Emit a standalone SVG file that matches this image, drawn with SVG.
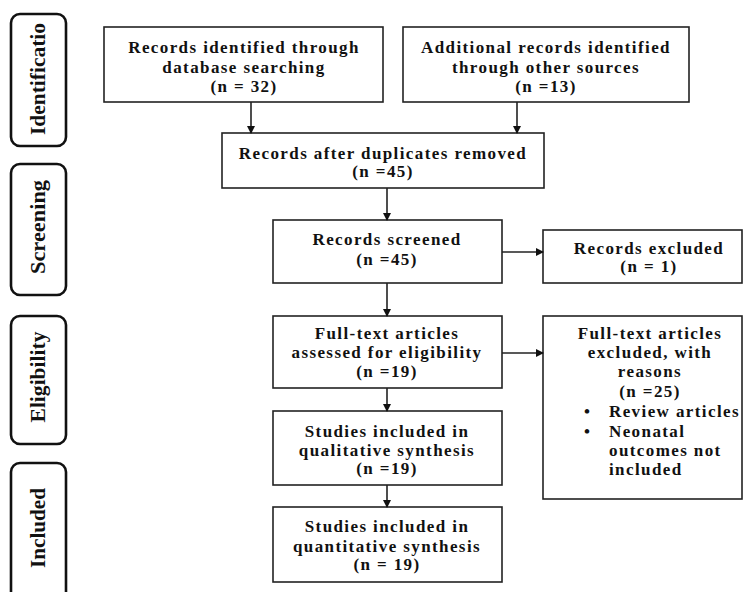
<svg xmlns="http://www.w3.org/2000/svg" width="747" height="592" viewBox="0 0 747 592">
<defs>
<marker id="ah" markerWidth="8" markerHeight="8" refX="7" refY="4" orient="auto" markerUnits="userSpaceOnUse">
<path d="M0,0 L8,4 L0,8 Z" fill="#111"/>
</marker>
<style>
.box{fill:#fff;stroke:#222;stroke-width:1.6}
.side{fill:#fff;stroke:#111;stroke-width:2.6}
.t{font-family:"Liberation Serif","Times New Roman",serif;font-weight:bold;font-size:17px;fill:#111;text-anchor:middle;letter-spacing:1.4px}
.tl{font-family:"Liberation Serif","Times New Roman",serif;font-weight:bold;font-size:17px;fill:#111;letter-spacing:1.4px}
.s{font-family:"Liberation Serif","Times New Roman",serif;font-weight:bold;font-size:21px;fill:#111;text-anchor:middle}
.c{stroke:#222;stroke-width:1.6;fill:none;marker-end:url(#ah)}
</style>
</defs>
<rect width="747" height="592" fill="#fff"/>

<g id="side-identification">
<rect class="side" x="11" y="14" width="55" height="132" rx="9"/>
<text class="s" transform="translate(45,79) rotate(-90)" textLength="112" lengthAdjust="spacingAndGlyphs">Identificatio</text>
</g>
<g id="side-screening">
<rect class="side" x="11" y="164" width="55" height="131" rx="9"/>
<text class="s" transform="translate(45,227) rotate(-90)" textLength="94" lengthAdjust="spacingAndGlyphs">Screening</text>
</g>
<g id="side-eligibility">
<rect class="side" x="11" y="316" width="55" height="128" rx="9"/>
<text class="s" transform="translate(45,377) rotate(-90)" textLength="91" lengthAdjust="spacingAndGlyphs">Eligibility</text>
</g>
<g id="side-included">
<rect class="side" x="11" y="463" width="55" height="140" rx="9"/>
<text class="s" transform="translate(45,528) rotate(-90)" textLength="80" lengthAdjust="spacingAndGlyphs">Included</text>
</g>

<g id="n-database">
<rect class="box" x="104" y="27" width="279" height="75"/>
<text class="t" x="244" y="53">Records identified through</text>
<text class="t" x="244" y="73">database searching</text>
<text class="t" x="244" y="92">(n = 32)</text>
</g>
<g id="n-other">
<rect class="box" x="403" y="27" width="286" height="75"/>
<text class="t" x="546" y="53">Additional records identified</text>
<text class="t" x="546" y="73">through other sources</text>
<text class="t" x="546" y="92">(n =13)</text>
</g>
<g id="n-duplicates">
<rect class="box" x="222" y="133" width="322" height="55"/>
<text class="t" x="383" y="159">Records after duplicates removed</text>
<text class="t" x="383" y="177">(n =45)</text>
</g>
<g id="n-screened">
<rect class="box" x="273" y="220" width="229" height="63"/>
<text class="t" x="387" y="245">Records screened</text>
<text class="t" x="387" y="265">(n =45)</text>
</g>
<g id="n-excluded">
<rect class="box" x="543" y="230" width="199" height="53"/>
<text class="t" x="649" y="254">Records excluded</text>
<text class="t" x="649" y="272">(n = 1)</text>
</g>
<g id="n-fulltext">
<rect class="box" x="273" y="316" width="229" height="72"/>
<text class="t" x="387" y="339">Full-text articles</text>
<text class="t" x="387" y="358">assessed for eligibility</text>
<text class="t" x="387" y="377">(n =19)</text>
</g>
<g id="n-fulltext-excluded">
<rect class="box" x="543" y="316" width="199" height="183"/>
<text class="t" x="650" y="339">Full-text articles</text>
<text class="t" x="650" y="358">excluded, with</text>
<text class="t" x="650" y="377">reasons</text>
<text class="t" x="650" y="397">(n =25)</text>
<text class="tl" x="584" y="417">•</text>
<text class="tl" x="609" y="417">Review articles</text>
<text class="tl" x="584" y="437">•</text>
<text class="tl" x="609" y="437">Neonatal</text>
<text class="tl" x="609" y="456">outcomes not</text>
<text class="tl" x="609" y="475">included</text>
</g>
<g id="n-qualitative">
<rect class="box" x="273" y="411" width="229" height="74"/>
<text class="t" x="387" y="437">Studies included  in</text>
<text class="t" x="387" y="456">qualitative synthesis</text>
<text class="t" x="387" y="474">(n =19)</text>
</g>
<g id="n-quantitative">
<rect class="box" x="273" y="507" width="229" height="75"/>
<text class="t" x="387" y="532">Studies included  in</text>
<text class="t" x="387" y="552">quantitative synthesis</text>
<text class="t" x="387" y="570">(n = 19)</text>
</g>

<g id="connectors">
<line class="c" x1="251" y1="102" x2="251" y2="133"/>
<line class="c" x1="517" y1="102" x2="517" y2="133"/>
<line class="c" x1="387" y1="188" x2="387" y2="220"/>
<line class="c" x1="502" y1="252" x2="543" y2="252"/>
<line class="c" x1="387" y1="283" x2="387" y2="316"/>
<line class="c" x1="502" y1="353" x2="543" y2="353"/>
<line class="c" x1="387" y1="388" x2="387" y2="411"/>
<line class="c" x1="387" y1="485" x2="387" y2="507"/>
</g>
</svg>
